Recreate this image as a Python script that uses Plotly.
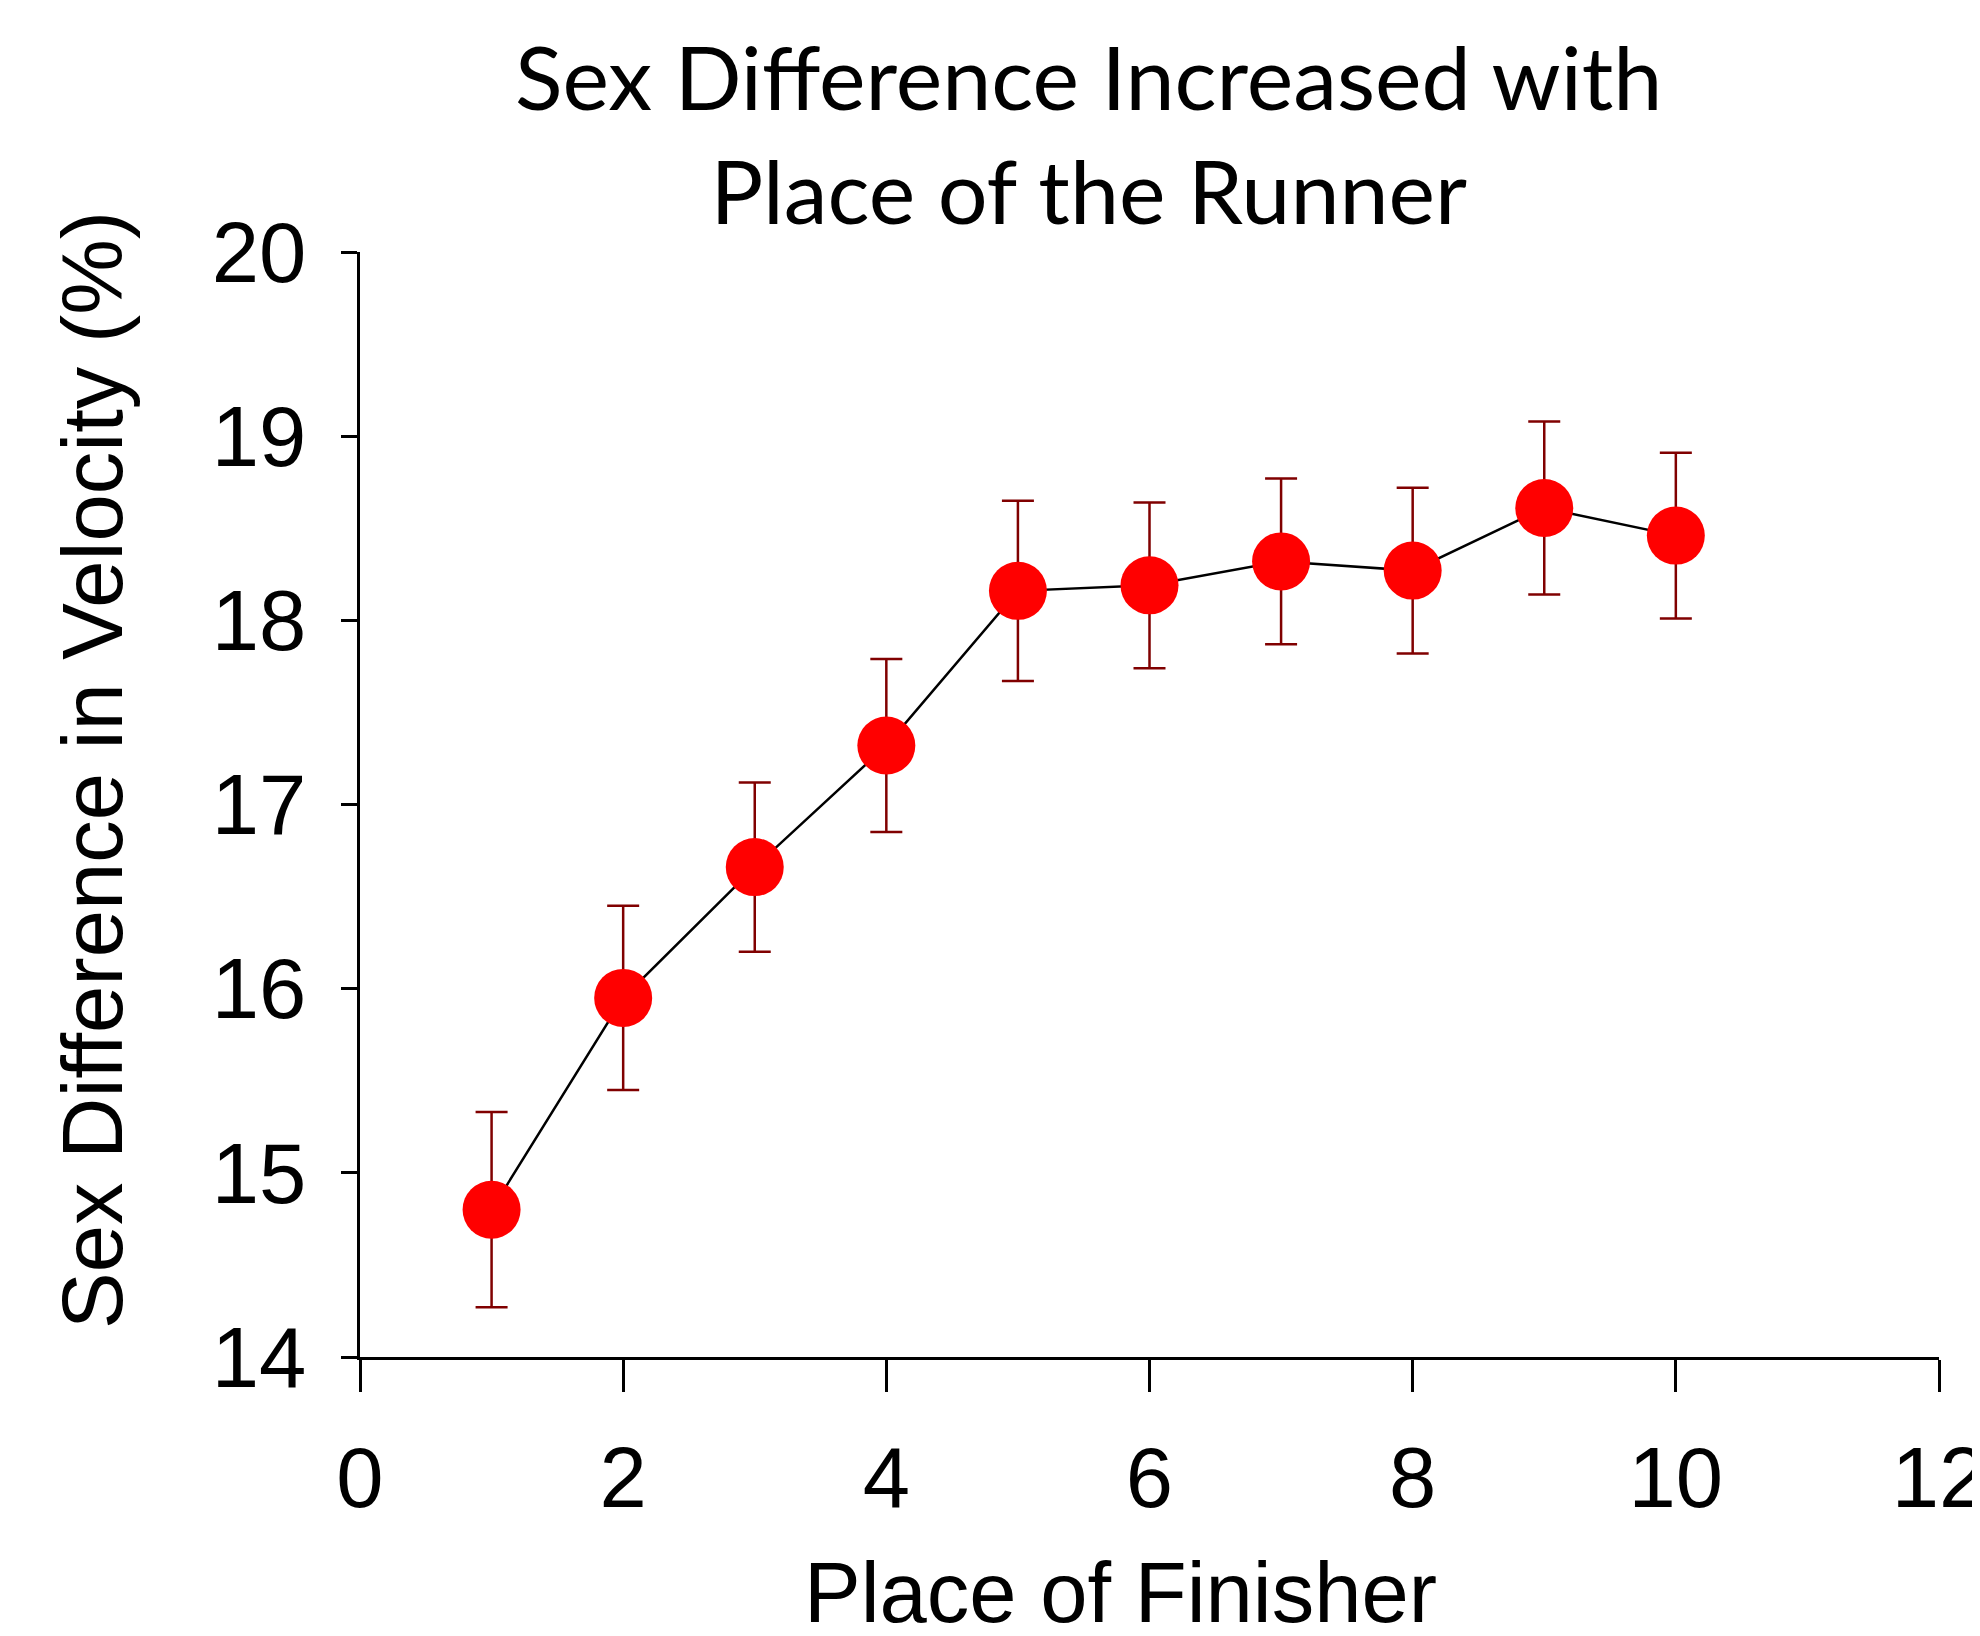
import plotly.graph_objects as go

place = [1, 2, 3, 4, 5, 6, 7, 8, 9, 10]
sex_diff = [14.80, 15.95, 16.66, 17.32, 18.16, 18.19, 18.32, 18.27, 18.61, 18.46]
sem = [0.53, 0.50, 0.46, 0.47, 0.49, 0.45, 0.45, 0.45, 0.47, 0.45]

x_ticks = [0, 2, 4, 6, 8, 10, 12]
y_ticks = [14, 15, 16, 17, 18, 19, 20]

title_text = "Sex Difference Increased with<br>Place of the Runner"
x_title = "Place of Finisher"
y_title = "Sex Difference in Velocity (%)"

W, H = 1980, 1636
L, R, T, B = 352, 49, 244, 287
pw, ph = W - L - R, H - T - B

fig = go.Figure()
fig.add_trace(go.Scatter(
    x=place, y=sex_diff,
    mode="lines+markers",
    line=dict(color="black", width=2.5),
    marker=dict(color="#FF0000", size=58, line=dict(width=0)),
    error_y=dict(type="data", array=sem, visible=True,
                 color="#800000", thickness=2.5, width=16),
    showlegend=False,
    cliponaxis=False,
))

axis_font = dict(family="Liberation Sans, Arial", size=85, color="black")

fig.update_layout(
    width=W, height=H,
    margin=dict(l=L, r=R, t=T, b=B, autoexpand=False),
    plot_bgcolor="white", paper_bgcolor="white",
    xaxis=dict(range=[0, 12], tickvals=x_ticks, ticktext=[str(v) for v in x_ticks],
               showgrid=False, zeroline=False, showline=True, linecolor="black",
               linewidth=2.5, ticks="outside", ticklen=32, tickwidth=2.5,
               tickcolor="black", tickfont=axis_font, ticklabelstandoff=13,
               automargin=False, ticklabeloverflow="allow"),
    yaxis=dict(range=[14, 20], tickvals=y_ticks, ticktext=[str(v) for v in y_ticks],
               showgrid=False, zeroline=False, showline=True, linecolor="black",
               linewidth=2.5, ticks="outside", ticklen=16, tickwidth=2.5,
               tickcolor="black", tickfont=axis_font, ticklabelstandoff=18,
               automargin=False, ticklabeloverflow="allow"),
    annotations=[
        dict(text=title_text, xref="paper", yref="paper",
             x=(1080 - L) / pw, y=(H - B - 13) / ph,
             yanchor="top", xanchor="center", showarrow=False,
             font=dict(family="Lato", size=88, color="black")),
        dict(text=x_title, xref="paper", yref="paper",
             x=(1112 - L) / pw, y=(H - B - 1584) / ph,
             xanchor="center", yanchor="middle", showarrow=False,
             font=dict(family="Liberation Sans, Arial", size=85, color="black")),
        dict(text=y_title, xref="paper", yref="paper",
             x=(84 - L) / pw, y=(H - B - 762) / ph, textangle=-90,
             xanchor="center", yanchor="middle", showarrow=False,
             font=dict(family="Liberation Sans, Arial", size=85, color="black")),
    ],
)

fig.write_html("out.html")
